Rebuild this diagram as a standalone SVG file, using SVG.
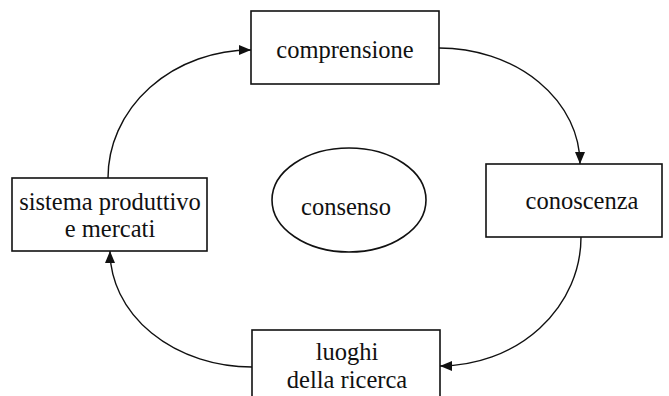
<svg xmlns="http://www.w3.org/2000/svg" width="669" height="396" viewBox="0 0 669 396">
<style>
.box{fill:#fff;stroke:#111;stroke-width:1.6}
.lbl{font-family:"Liberation Serif","Times New Roman",serif;font-size:24.5px;fill:#111;text-anchor:middle}
.con{fill:none;stroke:#111;stroke-width:1.4;marker-end:url(#ah)}
</style>
<defs>
<marker id="ah" viewBox="0 0 12 10" refX="12" refY="5" markerWidth="12" markerHeight="10" markerUnits="userSpaceOnUse" orient="auto">
<path d="M0,0 L12,5 L0,10 Z" fill="#111"/>
</marker>
</defs>
<rect width="669" height="396" fill="#fff"/>
<g id="connectors">
<path class="con" d="M108,178 A143,128 0 0 1 251,50"/>
<path class="con" d="M439,48 A141,116 0 0 1 580,164"/>
<path class="con" d="M581,237 A141,129 0 0 1 440,366"/>
<path class="con" d="M252,367 A142,116 0 0 1 110,251"/>
</g>
<g id="comprensione">
<rect class="box" x="251" y="11" width="188" height="73"/>
<text class="lbl" x="345" y="58">comprensione</text>
</g>
<g id="conoscenza">
<rect class="box" x="486" y="164" width="176" height="73"/>
<text class="lbl" x="582" y="209">conoscenza</text>
</g>
<g id="luoghi">
<rect class="box" x="252" y="330" width="188" height="80"/>
<text class="lbl" x="347" y="360">luoghi</text>
<text class="lbl" x="347" y="388">della ricerca</text>
</g>
<g id="sistema">
<rect class="box" x="12" y="178" width="195" height="73"/>
<text class="lbl" x="110" y="210">sistema produttivo</text>
<text class="lbl" x="110" y="237">e mercati</text>
</g>
<g id="consenso">
<ellipse class="box" cx="349" cy="200" rx="77" ry="52"/>
<text class="lbl" x="346" y="215">consenso</text>
</g>
</svg>
